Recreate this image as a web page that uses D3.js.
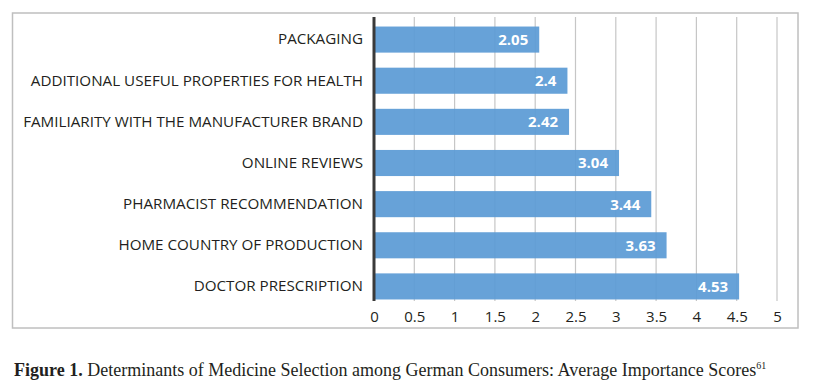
<!DOCTYPE html>
<html>
<head>
<meta charset="utf-8">
<script src="https://cdn.jsdelivr.net/npm/d3@7"></script>
<style>
  body { margin: 0; background: #fff; }
  .cat-axis text { font-family: "Open Sans", sans-serif; font-size: 15.2px; fill: #231f20; }
  .x-axis text { font-family: "Open Sans", sans-serif; font-size: 15px; fill: #231f20; }
  .value-label { font-family: "Open Sans", sans-serif; font-size: 15px; font-weight: 700; fill: #fff; }
  .caption { font-family: "Liberation Serif", serif; font-size: 18px; fill: #231f20; }
</style>
</head>
<body>
<div id="chart"></div>
<script>
// Data
const categories = [
  "PACKAGING",
  "ADDITIONAL USEFUL PROPERTIES FOR HEALTH",
  "FAMILIARITY WITH THE MANUFACTURER BRAND",
  "ONLINE REVIEWS",
  "PHARMACIST RECOMMENDATION",
  "HOME COUNTRY OF PRODUCTION",
  "DOCTOR PRESCRIPTION"
];
const scores = [2.05, 2.4, 2.42, 3.04, 3.44, 3.63, 4.53];
const tickValues = [0, 0.5, 1, 1.5, 2, 2.5, 3, 3.5, 4, 4.5, 5];

const data = categories.map((c, i) => ({ category: c, score: scores[i] }));

const config = {
  width: 817,
  height: 384,
  margin: { top: 19, right: 40, bottom: 77, left: 374 }
};

const width = config.width - config.margin.left - config.margin.right;   // 403
const height = config.height - config.margin.top - config.margin.bottom; // 288

const svg = d3.select("#chart")
  .append("svg")
  .attr("width", config.width)
  .attr("height", config.height);

// outer frame
svg.append("rect")
  .attr("x", 12.5)
  .attr("y", 13)
  .attr("width", 785.5)
  .attr("height", 315)
  .attr("fill", "none")
  .attr("stroke", "#bfbfbf")
  .attr("stroke-width", 1.5);

const chart = svg.append("g")
  .attr("transform", `translate(${config.margin.left},${config.margin.top})`);

const xScale = d3.scaleLinear().domain([0, 5]).range([0, width]);
const yScale = d3.scaleBand().domain(categories).range([0, height]).paddingInner(0.366).paddingOuter(0.183);

// vertical gridlines
chart.append("g")
  .attr("class", "grid")
  .selectAll("line")
  .data(tickValues.filter(d => d > 0))
  .join("line")
  .attr("x1", d => xScale(d))
  .attr("x2", d => xScale(d))
  .attr("y1", -2)
  .attr("y2", height - 6)
  .attr("stroke", "#c6c6c6")
  .attr("stroke-width", 1.2);

// bars
chart.selectAll(".bar")
  .data(data)
  .join("rect")
  .attr("class", "bar")
  .attr("x", 0)
  .attr("y", d => yScale(d.category))
  .attr("width", d => xScale(d.score))
  .attr("height", yScale.bandwidth())
  .attr("fill", "#5b9bd5")
  .attr("fill-opacity", 0.93);

// value labels inside bars
chart.selectAll(".value-label")
  .data(data)
  .join("text")
  .attr("class", "value-label")
  .attr("x", d => xScale(d.score) - 11)
  .attr("y", d => yScale(d.category) + yScale.bandwidth() / 2)
  .attr("dy", "0.36em")
  .attr("text-anchor", "end")
  .text(d => d.score);

// category axis (labels only) + dark baseline
const catAxis = d3.axisLeft(yScale).tickSize(0).tickPadding(11);
chart.append("g")
  .attr("class", "cat-axis")
  .call(catAxis)
  .call(g => g.select(".domain").remove());

chart.append("line")
  .attr("x1", 0).attr("x2", 0)
  .attr("y1", -2).attr("y2", height - 6)
  .attr("stroke", "#3a3a3a")
  .attr("stroke-width", 3);

// x axis (tick labels only)
const xAxis = d3.axisBottom(xScale)
  .tickValues(tickValues)
  .tickSize(0)
  .tickPadding(4)
  .tickFormat(d3.format("~g"));
chart.append("g")
  .attr("class", "x-axis")
  .attr("transform", `translate(0,${height})`)
  .call(xAxis)
  .call(g => g.select(".domain").remove());

// caption
const caption = svg.append("text")
  .attr("class", "caption")
  .attr("x", 14)
  .attr("y", 376);
caption.append("tspan").attr("font-weight", "700").text("Figure 1.");
caption.append("tspan").text(" Determinants of Medicine Selection among German Consumers: Average Importance Scores");
caption.append("tspan").attr("font-size", "10px").attr("dy", "-7").text("61");
</script>
</body>
</html>
